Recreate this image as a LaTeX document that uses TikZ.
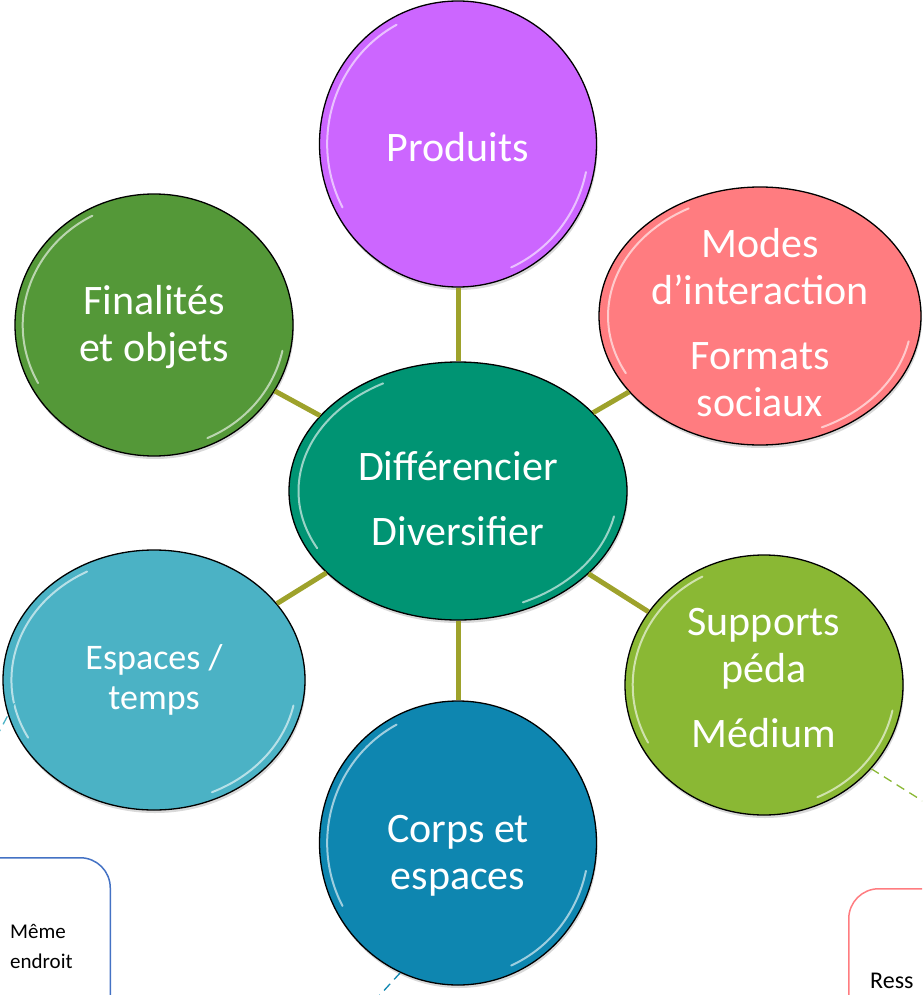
\documentclass[tikz,border=0pt]{standalone}
\usepackage{fontspec}
\setmainfont{Carlito}
\usetikzlibrary{positioning,calc,shapes.geometric,shadows}

\definecolor{hubcol}{RGB}{0,148,115}
\definecolor{prodcol}{RGB}{204,102,255}
\definecolor{modecol}{RGB}{255,124,128}
\definecolor{finacol}{RGB}{84,152,56}
\definecolor{espcol}{RGB}{75,178,197}
\definecolor{corpscol}{RGB}{14,134,176}
\definecolor{suppcol}{RGB}{138,184,52}
\definecolor{linkcol}{RGB}{158,162,43}
\definecolor{boxblue}{RGB}{68,114,196}

\tikzset{
  gloss/.style={white,opacity=.6,line width=2pt,line cap=round},
}
\newcommand\glint[1]{%
  \draw[gloss] let \p1=($(#1.east)-(#1.center)$), \p2=($(#1.north)-(#1.center)$) in
    ($(#1.center)+(208:{.94*\x1} and {.94*\y2})$)
      arc[start angle=208,end angle=118,x radius={.94*\x1},y radius={.94*\y2}]
    ($(#1.center)+(-12:{.94*\x1} and {.94*\y2})$)
      arc[start angle=-12,end angle=-66,x radius={.94*\x1},y radius={.94*\y2}];
}

\begin{document}
\begin{tikzpicture}[x=1pt,y=-1pt]
  \useasboundingbox (0,0) rectangle (922,995);
  \clip (0,0) rectangle (922,995);
  \coordinate (hub) at (458,491);
  \begin{scope}[
    every node/.style={
      ellipse,
      draw=black,
      line width=1.3pt,
      inner sep=0pt,
      drop shadow={opacity=.3,shadow xshift=1pt,shadow yshift=-3pt},
    },
    ]
    \node[fill=hubcol,minimum width=338pt,minimum height=258pt]   (diff)      at (hub)     {};
    \node[fill=prodcol,minimum width=277pt,minimum height=286pt]  (produits)  at (458,144) {};
    \node[fill=modecol,minimum width=322pt,minimum height=258pt]  (modes)     at (760,316) {};
    \node[fill=finacol,minimum width=278pt,minimum height=262pt]  (finalites) at (154,325) {};
    \node[fill=espcol,minimum width=302pt,minimum height=260pt]   (espaces)   at (154,680) {};
    \node[fill=corpscol,minimum width=277pt,minimum height=284pt] (corps)     at (458,843) {};
    \node[fill=suppcol,minimum width=278pt,minimum height=260pt]  (supports)  at (764,685) {};
  \end{scope}
  \foreach \disc in {diff,produits,modes,finalites,espaces,corps,supports}
    \glint{\disc};
  \begin{scope}[
    every node/.style={
      text=white,
      align=center,
      inner sep=0pt,
      font=\fontsize{42}{47}\selectfont,
    },
    ]
    \node (diff-txt)      at ($(diff)+(0,8)$)       {Différencier\\[18pt]Diversifier};
    \node (produits-txt)  at ($(produits)+(0,3)$)   {Produits};
    \node (modes-txt)     at ($(modes)+(0,7)$)      {Modes\\d’interaction\\[18pt]Formats\\sociaux};
    \node (finalites-txt) at ($(finalites)+(0,2)$)  {Finalités\\et objets};
    \node[font=\fontsize{36}{40}\selectfont]
          (espaces-txt)   at (espaces)              {Espaces /\\temps};
    \node (corps-txt)     at ($(corps)+(0,13)$)     {Corps et\\espaces};
    \node (supports-txt)  at ($(supports)+(0,-7)$)  {Supports\\péda\\[18pt]Médium};
  \end{scope}
  \begin{scope}[
    every path/.style={draw=linkcol,line width=5pt},
    ]
    \path
    (produits)  edge (diff)
    (modes)     edge (diff)
    (finalites) edge (diff)
    (espaces)   edge (diff)
    (corps)     edge (diff)
    (supports)  edge (diff);
  \end{scope}
  \coordinate (espout)   at (-8,745);
  \coordinate (corpsout) at (368,1008);
  \coordinate (suppout)  at (945,815);
  \begin{scope}[
    every path/.style={line width=1.3pt,dash pattern=on 9pt off 6pt},
    ]
    \draw[espcol]   ($(espaces.190)+(9,-3)$) -- (espout);
    \draw[corpscol] (corps.246)    -- (corpsout);
    \draw[suppcol]  (supports.322) -- (suppout);
  \end{scope}
  \node[draw=boxblue,line width=1.5pt,rounded corners=30pt,
        minimum width=151pt,minimum height=200pt,anchor=north east] (sameplace) at (111,857) {};
  \node[draw=modecol,line width=1.5pt,rounded corners=30pt,
        minimum width=160pt,minimum height=200pt,anchor=north west] (resbox) at (848,888) {};
  \node[anchor=north west,align=left,inner sep=0pt,
        font=\fontsize{21}{30}\selectfont] (sametext) at (10,924) {Même\\endroit};
  \node[anchor=base west,inner sep=0pt,
        font=\fontsize{24}{28}\selectfont] (restext) at (870,988) {Ress};
\end{tikzpicture}
\end{document}
